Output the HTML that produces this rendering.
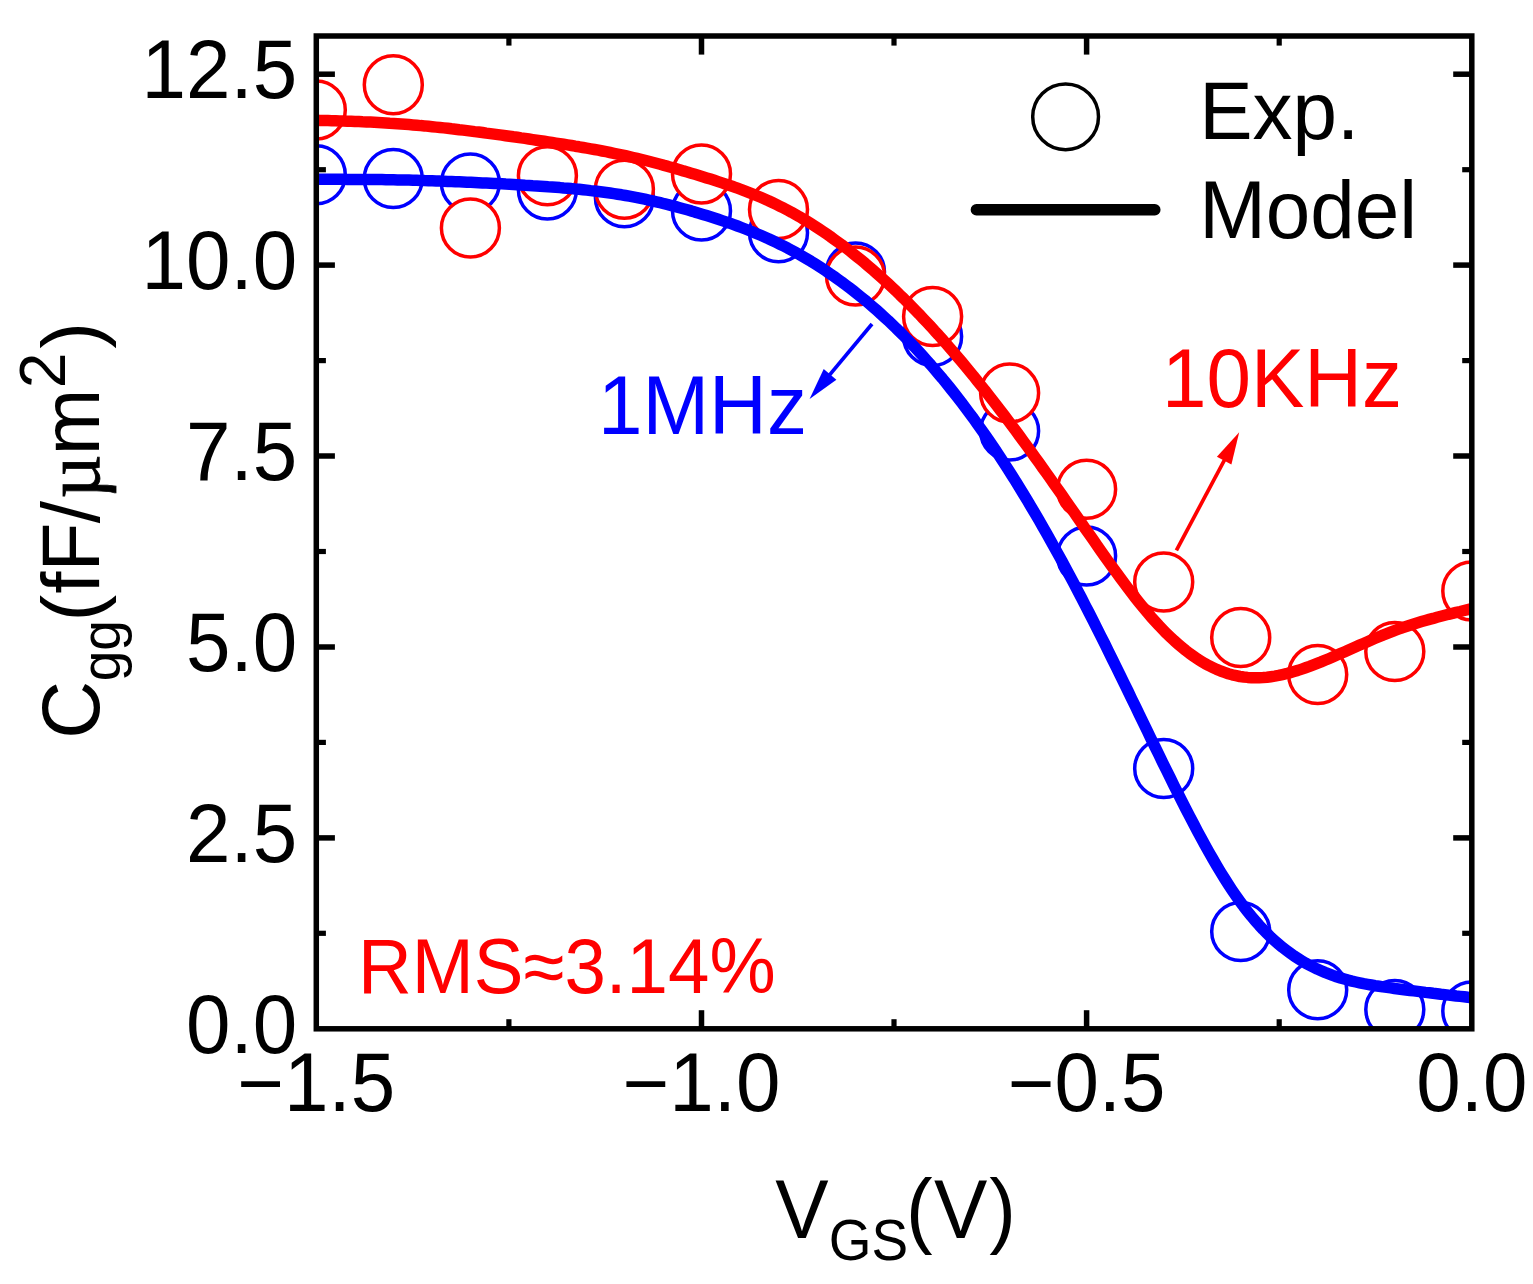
<!DOCTYPE html>
<html lang="en"><head><meta charset="utf-8"><title>Cgg vs VGS</title>
<style>html,body{margin:0;padding:0;background:#fff;}body{width:1533px;height:1284px;overflow:hidden;}svg{display:block;filter:blur(0.7px);}text{font-family:"Liberation Sans", sans-serif;font-kerning:none;white-space:pre;}</style>
</head><body>
<svg width="1533" height="1284" viewBox="0 0 1533 1284">
<rect x="0" y="0" width="1533" height="1284" fill="#fff"/>
<defs><clipPath id="ax"><rect x="316.3" y="36.0" width="1155.50" height="992.80"/></clipPath></defs>
<g clip-path="url(#ax)">
<g fill="#fff" stroke="#0000ff" stroke-width="3.5">
<circle cx="316.3" cy="174.7" r="29.0"/>
<circle cx="393.3" cy="178.5" r="29.0"/>
<circle cx="470.4" cy="183.0" r="29.0"/>
<circle cx="547.4" cy="189.9" r="29.0"/>
<circle cx="624.4" cy="197.8" r="29.0"/>
<circle cx="701.5" cy="211.0" r="29.0"/>
<circle cx="778.5" cy="232.8" r="29.0"/>
<circle cx="855.5" cy="272.0" r="29.0"/>
<circle cx="932.6" cy="336.5" r="29.0"/>
<circle cx="1009.6" cy="431.1" r="29.0"/>
<circle cx="1086.6" cy="556.0" r="29.0"/>
<circle cx="1163.7" cy="768.5" r="29.0"/>
<circle cx="1240.7" cy="931.6" r="29.0"/>
<circle cx="1317.7" cy="989.7" r="29.0"/>
<circle cx="1394.8" cy="1009.6" r="29.0"/>
<circle cx="1471.8" cy="1011.0" r="29.0"/>
</g>
<g fill="#fff" stroke="#ff0000" stroke-width="3.5">
<circle cx="316.3" cy="110.0" r="29.0"/>
<circle cx="393.3" cy="84.7" r="29.0"/>
<circle cx="470.4" cy="228.0" r="29.0"/>
<circle cx="547.4" cy="175.7" r="29.0"/>
<circle cx="624.4" cy="189.3" r="29.0"/>
<circle cx="701.5" cy="173.9" r="29.0"/>
<circle cx="778.5" cy="209.4" r="29.0"/>
<circle cx="855.5" cy="275.9" r="29.0"/>
<circle cx="932.6" cy="316.6" r="29.0"/>
<circle cx="1009.6" cy="392.9" r="29.0"/>
<circle cx="1086.6" cy="489.3" r="29.0"/>
<circle cx="1163.7" cy="582.0" r="29.0"/>
<circle cx="1240.7" cy="637.4" r="29.0"/>
<circle cx="1317.7" cy="674.5" r="29.0"/>
<circle cx="1394.8" cy="651.6" r="29.0"/>
<circle cx="1471.8" cy="590.9" r="29.0"/>
</g>
<path d="M316.3,179.3 L320.2,179.3 L324.0,179.3 L327.9,179.3 L331.8,179.3 L335.6,179.3 L339.5,179.3 L343.4,179.3 L347.2,179.4 L351.1,179.4 L354.9,179.4 L358.8,179.4 L362.7,179.4 L366.5,179.5 L370.4,179.5 L374.3,179.5 L378.1,179.6 L382.0,179.6 L385.9,179.7 L389.7,179.7 L393.6,179.8 L397.5,179.9 L401.3,180.0 L405.2,180.0 L409.0,180.1 L412.9,180.2 L416.8,180.3 L420.6,180.4 L424.5,180.6 L428.4,180.7 L432.2,180.8 L436.1,180.9 L440.0,181.1 L443.8,181.2 L447.7,181.4 L451.6,181.5 L455.4,181.7 L459.3,181.8 L463.2,182.0 L467.0,182.2 L470.9,182.3 L474.7,182.5 L478.6,182.7 L482.5,182.9 L486.3,183.0 L490.2,183.2 L494.1,183.4 L497.9,183.6 L501.8,183.8 L505.7,184.1 L509.5,184.3 L513.4,184.5 L517.3,184.7 L521.1,184.9 L525.0,185.2 L528.9,185.4 L532.7,185.7 L536.6,185.9 L540.4,186.2 L544.3,186.5 L548.2,186.8 L552.0,187.0 L555.9,187.3 L559.8,187.6 L563.6,188.0 L567.5,188.3 L571.4,188.6 L575.2,189.0 L579.1,189.3 L583.0,189.7 L586.8,190.1 L590.7,190.6 L594.5,191.0 L598.4,191.5 L602.3,192.0 L606.1,192.5 L610.0,193.0 L613.9,193.6 L617.7,194.2 L621.6,194.8 L625.5,195.5 L629.3,196.2 L633.2,196.9 L637.1,197.6 L640.9,198.4 L644.8,199.2 L648.7,200.1 L652.5,200.9 L656.4,201.8 L660.2,202.7 L664.1,203.7 L668.0,204.6 L671.8,205.6 L675.7,206.6 L679.6,207.7 L683.4,208.7 L687.3,209.8 L691.2,210.9 L695.0,212.1 L698.9,213.2 L702.8,214.4 L706.6,215.6 L710.5,216.8 L714.3,218.0 L718.2,219.3 L722.1,220.6 L725.9,221.9 L729.8,223.2 L733.7,224.6 L737.5,226.0 L741.4,227.5 L745.3,229.0 L749.1,230.5 L753.0,232.1 L756.9,233.7 L760.7,235.3 L764.6,237.0 L768.5,238.7 L772.3,240.5 L776.2,242.4 L780.0,244.3 L783.9,246.2 L787.8,248.2 L791.6,250.3 L795.5,252.4 L799.4,254.5 L803.2,256.7 L807.1,259.0 L811.0,261.3 L814.8,263.7 L818.7,266.2 L822.6,268.7 L826.4,271.2 L830.3,273.9 L834.1,276.5 L838.0,279.3 L841.9,282.1 L845.7,285.0 L849.6,287.9 L853.5,290.9 L857.3,293.9 L861.2,297.1 L865.1,300.2 L868.9,303.5 L872.8,306.8 L876.7,310.2 L880.5,313.6 L884.4,317.2 L888.3,320.7 L892.1,324.4 L896.0,328.1 L899.8,331.9 L903.7,335.8 L907.6,339.7 L911.4,343.7 L915.3,347.8 L919.2,352.0 L923.0,356.2 L926.9,360.5 L930.8,364.9 L934.6,369.4 L938.5,373.9 L942.4,378.5 L946.2,383.2 L950.1,388.0 L954.0,392.9 L957.8,397.8 L961.7,402.8 L965.5,407.9 L969.4,413.1 L973.3,418.3 L977.1,423.7 L981.0,429.1 L984.9,434.6 L988.7,440.1 L992.6,445.8 L996.5,451.5 L1000.3,457.4 L1004.2,463.3 L1008.1,469.3 L1011.9,475.4 L1015.8,481.5 L1019.6,487.8 L1023.5,494.1 L1027.4,500.5 L1031.2,507.0 L1035.1,513.5 L1039.0,520.2 L1042.8,526.9 L1046.7,533.7 L1050.6,540.6 L1054.4,547.5 L1058.3,554.5 L1062.2,561.6 L1066.0,568.7 L1069.9,576.0 L1073.8,583.2 L1077.6,590.6 L1081.5,598.0 L1085.3,605.5 L1089.2,613.0 L1093.1,620.6 L1096.9,628.3 L1100.8,636.0 L1104.7,643.7 L1108.5,651.5 L1112.4,659.4 L1116.3,667.2 L1120.1,675.1 L1124.0,683.0 L1127.9,690.9 L1131.7,698.9 L1135.6,706.8 L1139.4,714.8 L1143.3,722.8 L1147.2,730.7 L1151.0,738.7 L1154.9,746.6 L1158.8,754.5 L1162.6,762.4 L1166.5,770.3 L1170.4,778.1 L1174.2,785.9 L1178.1,793.6 L1182.0,801.3 L1185.8,808.9 L1189.7,816.4 L1193.6,823.8 L1197.4,831.1 L1201.3,838.3 L1205.1,845.3 L1209.0,852.3 L1212.9,859.0 L1216.7,865.6 L1220.6,872.1 L1224.5,878.4 L1228.3,884.4 L1232.2,890.3 L1236.1,896.0 L1239.9,901.4 L1243.8,906.7 L1247.7,911.7 L1251.5,916.4 L1255.4,921.0 L1259.2,925.3 L1263.1,929.5 L1267.0,933.4 L1270.8,937.2 L1274.7,940.7 L1278.6,944.1 L1282.4,947.3 L1286.3,950.3 L1290.2,953.2 L1294.0,955.9 L1297.9,958.4 L1301.8,960.8 L1305.6,963.1 L1309.5,965.2 L1313.4,967.2 L1317.2,969.1 L1321.1,970.8 L1324.9,972.4 L1328.8,973.9 L1332.7,975.4 L1336.5,976.7 L1340.4,977.9 L1344.3,979.0 L1348.1,980.1 L1352.0,981.1 L1355.9,982.0 L1359.7,982.8 L1363.6,983.6 L1367.5,984.3 L1371.3,985.0 L1375.2,985.7 L1379.1,986.3 L1382.9,986.9 L1386.8,987.4 L1390.6,987.9 L1394.5,988.5 L1398.4,989.0 L1402.2,989.5 L1406.1,990.0 L1410.0,990.5 L1413.8,990.9 L1417.7,991.4 L1421.6,991.9 L1425.4,992.4 L1429.3,992.8 L1433.2,993.3 L1437.0,993.7 L1440.9,994.2 L1444.7,994.6 L1448.6,995.1 L1452.5,995.5 L1456.3,996.0 L1460.2,996.4 L1464.1,996.8 L1467.9,997.3 L1471.8,997.7" fill="none" stroke="#0000ff" stroke-width="11.5" stroke-linejoin="round"/>
<path d="M316.3,120.3 L320.2,120.4 L324.0,120.5 L327.9,120.6 L331.8,120.7 L335.6,120.8 L339.5,121.0 L343.4,121.1 L347.2,121.2 L351.1,121.3 L354.9,121.5 L358.8,121.6 L362.7,121.8 L366.5,121.9 L370.4,122.1 L374.3,122.3 L378.1,122.5 L382.0,122.7 L385.9,122.9 L389.7,123.2 L393.6,123.4 L397.5,123.7 L401.3,124.0 L405.2,124.3 L409.0,124.6 L412.9,124.9 L416.8,125.2 L420.6,125.6 L424.5,125.9 L428.4,126.3 L432.2,126.7 L436.1,127.1 L440.0,127.5 L443.8,127.9 L447.7,128.3 L451.6,128.8 L455.4,129.2 L459.3,129.7 L463.2,130.1 L467.0,130.6 L470.9,131.1 L474.7,131.6 L478.6,132.0 L482.5,132.5 L486.3,133.1 L490.2,133.6 L494.1,134.1 L497.9,134.6 L501.8,135.1 L505.7,135.7 L509.5,136.2 L513.4,136.8 L517.3,137.3 L521.1,137.9 L525.0,138.4 L528.9,139.0 L532.7,139.6 L536.6,140.2 L540.4,140.7 L544.3,141.3 L548.2,141.9 L552.0,142.5 L555.9,143.1 L559.8,143.7 L563.6,144.3 L567.5,144.9 L571.4,145.5 L575.2,146.2 L579.1,146.8 L583.0,147.5 L586.8,148.1 L590.7,148.8 L594.5,149.5 L598.4,150.2 L602.3,151.0 L606.1,151.7 L610.0,152.5 L613.9,153.3 L617.7,154.1 L621.6,154.9 L625.5,155.7 L629.3,156.6 L633.2,157.5 L637.1,158.4 L640.9,159.3 L644.8,160.3 L648.7,161.3 L652.5,162.3 L656.4,163.3 L660.2,164.3 L664.1,165.4 L668.0,166.4 L671.8,167.5 L675.7,168.6 L679.6,169.7 L683.4,170.9 L687.3,172.0 L691.2,173.2 L695.0,174.3 L698.9,175.5 L702.8,176.7 L706.6,177.9 L710.5,179.1 L714.3,180.3 L718.2,181.6 L722.1,182.9 L725.9,184.2 L729.8,185.5 L733.7,186.8 L737.5,188.2 L741.4,189.6 L745.3,191.1 L749.1,192.6 L753.0,194.1 L756.9,195.7 L760.7,197.3 L764.6,199.0 L768.5,200.7 L772.3,202.5 L776.2,204.4 L780.0,206.3 L783.9,208.2 L787.8,210.3 L791.6,212.3 L795.5,214.5 L799.4,216.7 L803.2,219.0 L807.1,221.3 L811.0,223.7 L814.8,226.1 L818.7,228.6 L822.6,231.2 L826.4,233.8 L830.3,236.5 L834.1,239.3 L838.0,242.1 L841.9,244.9 L845.7,247.8 L849.6,250.8 L853.5,253.9 L857.3,257.0 L861.2,260.1 L865.1,263.3 L868.9,266.6 L872.8,269.9 L876.7,273.3 L880.5,276.7 L884.4,280.2 L888.3,283.8 L892.1,287.4 L896.0,291.0 L899.8,294.8 L903.7,298.5 L907.6,302.4 L911.4,306.3 L915.3,310.2 L919.2,314.2 L923.0,318.3 L926.9,322.4 L930.8,326.5 L934.6,330.8 L938.5,335.0 L942.4,339.4 L946.2,343.7 L950.1,348.2 L954.0,352.7 L957.8,357.2 L961.7,361.8 L965.5,366.4 L969.4,371.1 L973.3,375.8 L977.1,380.6 L981.0,385.5 L984.9,390.3 L988.7,395.2 L992.6,400.2 L996.5,405.2 L1000.3,410.2 L1004.2,415.3 L1008.1,420.4 L1011.9,425.6 L1015.8,430.8 L1019.6,436.0 L1023.5,441.3 L1027.4,446.6 L1031.2,451.9 L1035.1,457.3 L1039.0,462.7 L1042.8,468.1 L1046.7,473.5 L1050.6,479.0 L1054.4,484.5 L1058.3,489.9 L1062.2,495.4 L1066.0,501.0 L1069.9,506.5 L1073.8,512.0 L1077.6,517.6 L1081.5,523.1 L1085.3,528.7 L1089.2,534.2 L1093.1,539.7 L1096.9,545.3 L1100.8,550.8 L1104.7,556.3 L1108.5,561.7 L1112.4,567.1 L1116.3,572.4 L1120.1,577.7 L1124.0,582.9 L1127.9,588.1 L1131.7,593.1 L1135.6,598.1 L1139.4,602.9 L1143.3,607.7 L1147.2,612.3 L1151.0,616.8 L1154.9,621.1 L1158.8,625.4 L1162.6,629.4 L1166.5,633.4 L1170.4,637.1 L1174.2,640.7 L1178.1,644.1 L1182.0,647.4 L1185.8,650.5 L1189.7,653.5 L1193.6,656.2 L1197.4,658.9 L1201.3,661.3 L1205.1,663.6 L1209.0,665.7 L1212.9,667.6 L1216.7,669.4 L1220.6,671.0 L1224.5,672.4 L1228.3,673.7 L1232.2,674.8 L1236.1,675.7 L1239.9,676.5 L1243.8,677.0 L1247.7,677.4 L1251.5,677.7 L1255.4,677.8 L1259.2,677.7 L1263.1,677.5 L1267.0,677.2 L1270.8,676.7 L1274.7,676.1 L1278.6,675.4 L1282.4,674.6 L1286.3,673.7 L1290.2,672.6 L1294.0,671.5 L1297.9,670.4 L1301.8,669.1 L1305.6,667.8 L1309.5,666.4 L1313.4,664.9 L1317.2,663.4 L1321.1,661.9 L1324.9,660.3 L1328.8,658.7 L1332.7,657.0 L1336.5,655.3 L1340.4,653.6 L1344.3,651.9 L1348.1,650.2 L1352.0,648.5 L1355.9,646.8 L1359.7,645.1 L1363.6,643.4 L1367.5,641.7 L1371.3,640.0 L1375.2,638.3 L1379.1,636.7 L1382.9,635.1 L1386.8,633.6 L1390.6,632.1 L1394.5,630.6 L1398.4,629.2 L1402.2,627.8 L1406.1,626.5 L1410.0,625.2 L1413.8,624.0 L1417.7,622.8 L1421.6,621.6 L1425.4,620.5 L1429.3,619.4 L1433.2,618.4 L1437.0,617.3 L1440.9,616.3 L1444.7,615.3 L1448.6,614.3 L1452.5,613.4 L1456.3,612.4 L1460.2,611.5 L1464.1,610.5 L1467.9,609.6 L1471.8,608.7" fill="none" stroke="#ff0000" stroke-width="11.5" stroke-linejoin="round"/>
</g>
<g stroke="#000" fill="none">
<line x1="316.3" y1="837.9" x2="334.9" y2="837.9" stroke-width="5.5"/>
<line x1="1471.8" y1="837.9" x2="1453.2" y2="837.9" stroke-width="5.5"/>
<line x1="316.3" y1="647.0" x2="334.9" y2="647.0" stroke-width="5.5"/>
<line x1="1471.8" y1="647.0" x2="1453.2" y2="647.0" stroke-width="5.5"/>
<line x1="316.3" y1="456.0" x2="334.9" y2="456.0" stroke-width="5.5"/>
<line x1="1471.8" y1="456.0" x2="1453.2" y2="456.0" stroke-width="5.5"/>
<line x1="316.3" y1="265.1" x2="334.9" y2="265.1" stroke-width="5.5"/>
<line x1="1471.8" y1="265.1" x2="1453.2" y2="265.1" stroke-width="5.5"/>
<line x1="316.3" y1="74.2" x2="334.9" y2="74.2" stroke-width="5.5"/>
<line x1="1471.8" y1="74.2" x2="1453.2" y2="74.2" stroke-width="5.5"/>
<line x1="316.3" y1="933.3" x2="325.9" y2="933.3" stroke-width="5.2"/>
<line x1="1471.8" y1="933.3" x2="1462.2" y2="933.3" stroke-width="5.2"/>
<line x1="316.3" y1="742.4" x2="325.9" y2="742.4" stroke-width="5.2"/>
<line x1="1471.8" y1="742.4" x2="1462.2" y2="742.4" stroke-width="5.2"/>
<line x1="316.3" y1="551.5" x2="325.9" y2="551.5" stroke-width="5.2"/>
<line x1="1471.8" y1="551.5" x2="1462.2" y2="551.5" stroke-width="5.2"/>
<line x1="316.3" y1="360.6" x2="325.9" y2="360.6" stroke-width="5.2"/>
<line x1="1471.8" y1="360.6" x2="1462.2" y2="360.6" stroke-width="5.2"/>
<line x1="316.3" y1="169.7" x2="325.9" y2="169.7" stroke-width="5.2"/>
<line x1="1471.8" y1="169.7" x2="1462.2" y2="169.7" stroke-width="5.2"/>
<line x1="701.5" y1="1028.8" x2="701.5" y2="1010.2" stroke-width="5.5"/>
<line x1="701.5" y1="36.0" x2="701.5" y2="54.6" stroke-width="5.5"/>
<line x1="1086.6" y1="1028.8" x2="1086.6" y2="1010.2" stroke-width="5.5"/>
<line x1="1086.6" y1="36.0" x2="1086.6" y2="54.6" stroke-width="5.5"/>
<line x1="508.9" y1="1028.8" x2="508.9" y2="1019.2" stroke-width="5.2"/>
<line x1="508.9" y1="36.0" x2="508.9" y2="45.6" stroke-width="5.2"/>
<line x1="894.0" y1="1028.8" x2="894.0" y2="1019.2" stroke-width="5.2"/>
<line x1="894.0" y1="36.0" x2="894.0" y2="45.6" stroke-width="5.2"/>
<line x1="1279.2" y1="1028.8" x2="1279.2" y2="1019.2" stroke-width="5.2"/>
<line x1="1279.2" y1="36.0" x2="1279.2" y2="45.6" stroke-width="5.2"/>
</g>
<rect x="316.3" y="36.0" width="1155.50" height="992.80" fill="none" stroke="#000" stroke-width="5.5"/>
<text transform="translate(297.20,1052.90) scale(1,1.0405)" font-size="80" fill="#000" text-anchor="end">0.0</text>
<text transform="translate(297.20,861.98) scale(1,1.0405)" font-size="80" fill="#000" text-anchor="end">2.5</text>
<text transform="translate(297.20,671.06) scale(1,1.0405)" font-size="80" fill="#000" text-anchor="end">5.0</text>
<text transform="translate(297.20,480.14) scale(1,1.0405)" font-size="80" fill="#000" text-anchor="end">7.5</text>
<text transform="translate(297.20,289.22) scale(1,1.0405)" font-size="80" fill="#000" text-anchor="end">10.0</text>
<text transform="translate(297.20,98.30) scale(1,1.0405)" font-size="80" fill="#000" text-anchor="end">12.5</text>
<text transform="translate(316.30,1111.30) scale(1,1.0405)" font-size="80" fill="#000" text-anchor="middle"><tspan dy="0.8">−</tspan><tspan dy="-0.8">1.5</tspan></text>
<text transform="translate(701.47,1111.30) scale(1,1.0405)" font-size="80" fill="#000" text-anchor="middle"><tspan dy="0.8">−</tspan><tspan dy="-0.8">1.0</tspan></text>
<text transform="translate(1086.63,1111.30) scale(1,1.0405)" font-size="80" fill="#000" text-anchor="middle"><tspan dy="0.8">−</tspan><tspan dy="-0.8">0.5</tspan></text>
<text transform="translate(1471.80,1111.30) scale(1,1.0405)" font-size="80" fill="#000" text-anchor="middle">0.0</text>
<circle cx="1065.6" cy="116.8" r="32.9" fill="none" stroke="#000" stroke-width="3.5"/>
<line x1="976.4" y1="209.7" x2="1154.8" y2="209.7" stroke="#000" stroke-width="11.5" stroke-linecap="round"/>
<text transform="translate(1199.20,139.20) scale(1,1.03)" font-size="80" fill="#000">Exp.</text>
<text transform="translate(1199.20,237.70) scale(1,1.03)" font-size="80" fill="#000">Model</text>
<text transform="translate(1162.00,406.80) scale(1,1.0405)" font-size="80" fill="#ff0000">10KHz</text>
<text transform="translate(598.00,433.70) scale(1,1.0405)" font-size="80" fill="#0000ff">1MHz</text>
<text transform="translate(358.00,992.50) scale(1,1.0405)" font-size="74.5" fill="#ff0000">RMS≈3.14%</text>
<line x1="872.0" y1="324.0" x2="828.8" y2="375.9" stroke="#0000ff" stroke-width="3.7"/><polygon points="809.6,399.0 823.7,369.1 836.4,379.7" fill="#0000ff"/>
<line x1="1176.4" y1="550.3" x2="1225.1" y2="458.8" stroke="#ff0000" stroke-width="3.7"/><polygon points="1239.2,432.3 1231.4,464.4 1216.9,456.7" fill="#ff0000"/>
<text transform="translate(0,1237.5) scale(1,1.0405)" font-size="80" fill="#000"><tspan x="775.30">V</tspan><tspan x="828.70" dy="21.72" font-size="55">GS</tspan><tspan x="905.90" dy="-21.72">(</tspan><tspan x="933.90">V</tspan><tspan x="989.20">)</tspan></text>
<text transform="translate(99,739.5) rotate(-90) translate(0,0) scale(1,1.02)" font-size="80" fill="#000"><tspan x="0.80">C</tspan><tspan x="58.30" dy="20.59" font-size="55">gg</tspan><tspan x="118.00" dy="-20.59">(</tspan><tspan x="145.70">f</tspan><tspan x="168.00">F</tspan><tspan x="216.30">/</tspan><tspan x="241.10" font-size="76" style="font-family:'Liberation Serif',serif;stroke:#000;stroke-width:0.8px">µ</tspan><tspan x="284.30">m</tspan><tspan x="351.20" dy="-33.14" font-size="64">2</tspan><tspan x="390.70" dy="33.14">)</tspan></text>
</svg>
</body></html>
